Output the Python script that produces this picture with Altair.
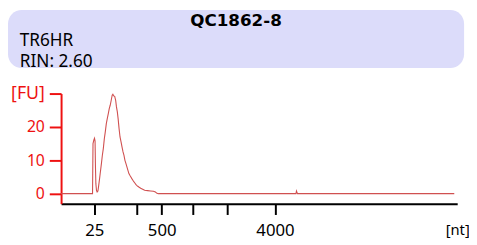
import altair as alt
import pandas as pd

# Electropherogram trace: migration time (s) and fluorescence (FU)
time_s = [19.0, 22.97, 23.03, 23.13, 23.22, 23.29, 23.34, 23.39, 23.47, 23.55,
          23.65, 23.75, 23.86, 23.96, 24.09, 24.21, 24.33, 24.46, 24.58, 24.71,
          24.83, 24.96, 25.08, 25.20, 25.33, 25.45, 25.54, 25.64, 25.76, 25.89,
          25.99, 26.10, 26.20, 26.32, 26.44, 26.57, 26.69, 26.82, 26.94, 27.06,
          27.19, 27.31, 27.44, 27.56, 27.68, 27.81, 27.93, 28.06, 28.18, 28.31,
          28.43, 28.55, 28.68, 28.86, 29.05, 29.30, 29.55, 29.92, 30.29, 30.66,
          30.91, 31.10, 31.28, 48.65, 48.71, 48.84, 68.63]
fu = [0.0, 0.0, 15.0, 16.0, 16.6, 15.8, 8.0, 3.0, 1.0, 0.5,
      0.8, 2.5, 4.5, 6.5, 9.0, 11.5, 13.5, 16.5, 18.5, 21.0,
      22.5, 24.0, 25.5, 26.5, 28.0, 29.5, 29.8, 29.3, 29.2, 28.0,
      26.0, 24.5, 22.5, 19.5, 17.0, 15.5, 14.0, 12.5, 11.5, 10.0,
      9.0, 8.0, 7.0, 6.0, 5.5, 5.0, 4.5, 4.0, 3.6, 3.2,
      2.8, 2.5, 2.2, 1.9, 1.6, 1.3, 1.0, 0.9, 0.8, 0.7,
      0.5, 0.1, 0.0, 0.0, 0.8, 0.0, 0.0]

# Ladder positions (s) and their sizes (nt)
ladder_s = [23.2, 28.5, 31.7, 35.6, 40.0, 46.0]
ladder_nt = ["25", "", "500", "", "", "4000"]
x_end = 69.0
x_unit = "[nt]"

y_ticks = [0, 10, 20, 30]
y_unit = "[FU]"

title_text = ["QC1862-8"]
info_line1 = ["TR6HR"]
info_line2 = ["RIN: 2.60"]

df = pd.DataFrame({"t": time_s, "fu": fu})

label_expr = " : ".join(
    f"datum.value == {v} ? '{l}'" for v, l in zip(ladder_s, ladder_nt)
) + f" : datum.value == {x_end} ? '{x_unit}' : ''"

RED = "#ee1111"

line = alt.Chart(df).mark_line(color="#d05050", strokeWidth=1.1).encode(
    x=alt.X("t:Q", scale=alt.Scale(domain=[19, x_end], nice=False, zero=False),
            axis=alt.Axis(values=ladder_s + [x_end], labelExpr=label_expr, title=None,
                          grid=False, domainColor="black", domainWidth=2,
                          tickColor="black", tickWidth=2, tickSize=11,
                          tickOpacity={"condition": {"test": f"datum.value == {x_end}", "value": 0}, "value": 1},
                          labelFont="Noto Sans",
                          labelFontSize={"condition": {"test": f"datum.value == {x_end}", "value": 15}, "value": 17},
                          labelColor="black",
                          labelPadding=8, labelFlush=False, labelOverlap=False)),
    y=alt.Y("fu:Q", scale=alt.Scale(domain=[-3, 30], nice=False, zero=False),
            axis=alt.Axis(values=y_ticks, labelExpr=f"datum.value == 30 ? '{y_unit}' : datum.label",
                          title=None, grid=False, domainColor=RED, domainWidth=2,
                          tickColor=RED, tickWidth=2, tickSize=12,
                          labelFont="Noto Sans",
                          labelFontSize={"condition": {"test": "datum.value == 30", "value": 18}, "value": 16},
                          labelColor=RED,
                          labelPadding=5, labelOverlap=False, labelFlush=False)),
)

box = alt.Chart(pd.DataFrame({"a": [0]})).mark_rect(
    color="#dcdcfa", cornerRadius=14
).encode(x=alt.value(-54), x2=alt.value(410), y=alt.value(-85), y2=alt.value(-26))

title = alt.Chart(pd.DataFrame({"txt": title_text})).mark_text(
    font="DejaVu Sans", fontSize=17, fontWeight="bold", align="center", baseline="alphabetic", color="black"
).encode(text="txt:N", x=alt.value(178), y=alt.value(-69))

info1 = alt.Chart(pd.DataFrame({"txt": info_line1})).mark_text(
    font="Noto Sans", fontSize=17.5, align="left", baseline="alphabetic", color="black"
).encode(text="txt:N", x=alt.value(-42), y=alt.value(-48.5))

info2 = alt.Chart(pd.DataFrame({"txt": info_line2})).mark_text(
    font="Noto Sans", fontSize=17.5, align="left", baseline="alphabetic", color="black"
).encode(text="txt:N", x=alt.value(-42), y=alt.value(-27))

chart = alt.layer(box, title, info1, info2, line).properties(
    width=403, height=112,
    padding={"left": 54, "top": 85, "right": 12, "bottom": 40},
    autosize=alt.AutoSizeParams(type="none"),
).configure_view(stroke=None)

chart.save("out.html", embed_options={"renderer": "svg", "actions": False})
